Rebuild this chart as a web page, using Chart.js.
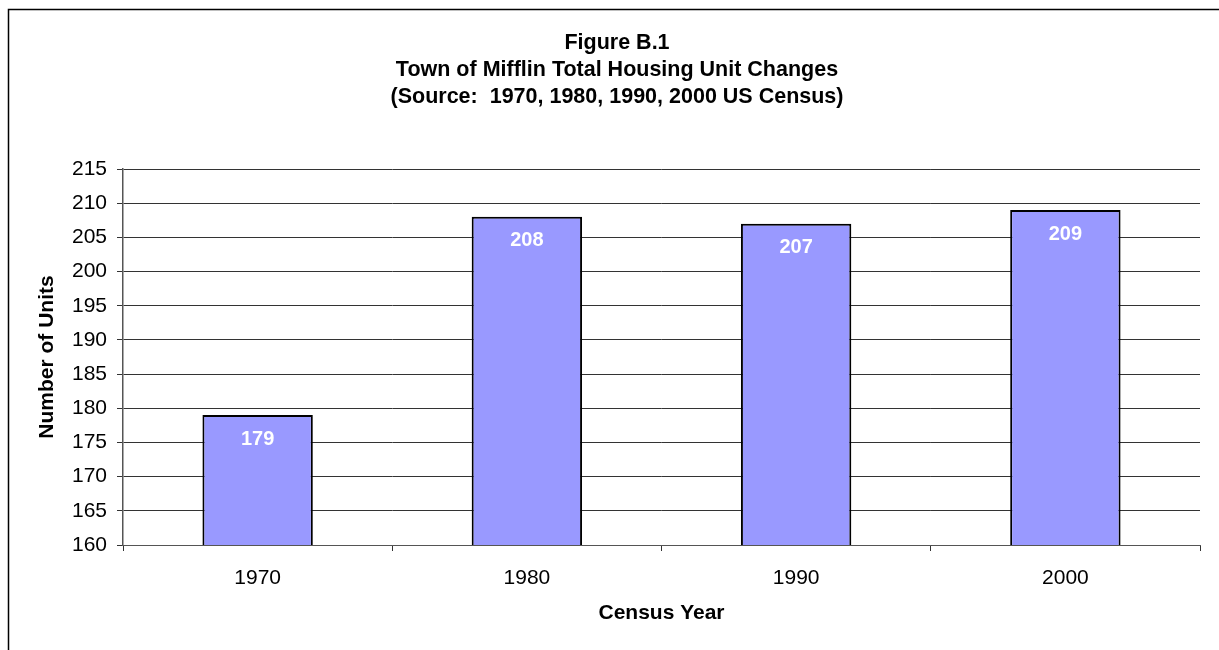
<!DOCTYPE html>
<html>
<head>
<meta charset="utf-8">
<title>Figure B.1</title>
<script src="https://cdn.jsdelivr.net/npm/chart.js@4/dist/chart.umd.min.js"></script>
<style>
  html, body { margin: 0; padding: 0; background: #fff; overflow: hidden; }
  #wrap { width: 1219px; height: 650px; }
</style>
</head>
<body>
<div id="wrap"><canvas id="housingChart" width="1219" height="650"></canvas></div>
<script>
const years = ['1970', '1980', '1990', '2000'];
const units = [179, 208, 207, 209];
const yMin = 160;
const yMax = 215;
const yStep = 5;
const titleLines = [
  'Figure B.1',
  'Town of Mifflin Total Housing Unit Changes',
  '(Source:  1970, 1980, 1990, 2000 US Census)'
];

Chart.defaults.font.family = '"Liberation Sans", Arial, sans-serif';
Chart.defaults.color = '#000';

// frame around the whole figure (only top and left edges fall inside the page)
const frame = {
  id: 'frame',
  beforeDraw(chart) {
    const ctx = chart.ctx;
    ctx.save();
    ctx.strokeStyle = '#000';
    ctx.lineWidth = 1.5;
    ctx.beginPath();
    ctx.moveTo(8.5, chart.height + 2);
    ctx.lineTo(8.5, 9.5);
    ctx.lineTo(chart.width + 2, 9.5);
    ctx.stroke();
    ctx.restore();
  }
};

// white value labels just inside the top of each bar
const valueLabels = {
  id: 'valueLabels',
  afterDatasetsDraw(chart) {
    const ctx = chart.ctx;
    const meta = chart.getDatasetMeta(0);
    ctx.save();
    ctx.fillStyle = '#fff';
    ctx.font = 'bold 20px "Liberation Sans", Arial, sans-serif';
    ctx.textAlign = 'center';
    ctx.textBaseline = 'middle';
    meta.data.forEach((bar, i) => {
      ctx.fillText(String(units[i]), bar.x, bar.y + 24);
    });
    ctx.restore();
  }
};

const ctx = document.getElementById('housingChart').getContext('2d');

new Chart(ctx, {
  type: 'bar',
  data: {
    labels: years,
    datasets: [{
      data: units,
      backgroundColor: '#9999FF',
      borderColor: '#000',
      borderWidth: 2,
      borderSkipped: false,
      categoryPercentage: 1,
      barPercentage: 0.41
    }]
  },
  options: {
    responsive: false,
    animation: false,
    // wide left padding pushes the title centre right; y axis width makes up for it
    layout: { padding: { left: 34, right: 19, top: 0, bottom: 0 } },
    plugins: {
      legend: { display: false },
      tooltip: { enabled: false },
      title: {
        display: true,
        text: titleLines,
        color: '#000',
        font: { size: 21.5, weight: 'bold', lineHeight: 27 / 21.5 },
        padding: { top: 29.5, bottom: 58.5 }
      }
    },
    scales: {
      x: {
        grid: {
          offset: true,
          drawOnChartArea: false,
          drawTicks: true,
          tickLength: 6,
          color: '#333'
        },
        border: { color: '#555', width: 1 },
        ticks: { font: { size: 21 }, color: '#000', padding: 15 },
        title: {
          display: true,
          text: 'Census Year',
          color: '#000',
          font: { size: 21, weight: 'bold' },
          padding: { top: 0, bottom: 24.5 }
        },
        afterFit(scale) { scale.height = 105; }
      },
      y: {
        min: yMin,
        max: yMax,
        grid: {
          color: '#333',
          tickLength: 6,
          drawTicks: true
        },
        border: { color: '#555', width: 1.5 },
        ticks: {
          stepSize: yStep,
          font: { size: 21 },
          color: '#000',
          padding: 10
        },
        title: {
          display: true,
          text: 'Number of Units',
          color: '#000',
          font: { size: 21, weight: 'bold' },
          padding: { top: 0.5, bottom: 0 }
        },
        afterFit(scale) { scale.width = 89; }
      }
    }
  },
  plugins: [frame, valueLabels]
});
</script>
</body>
</html>
